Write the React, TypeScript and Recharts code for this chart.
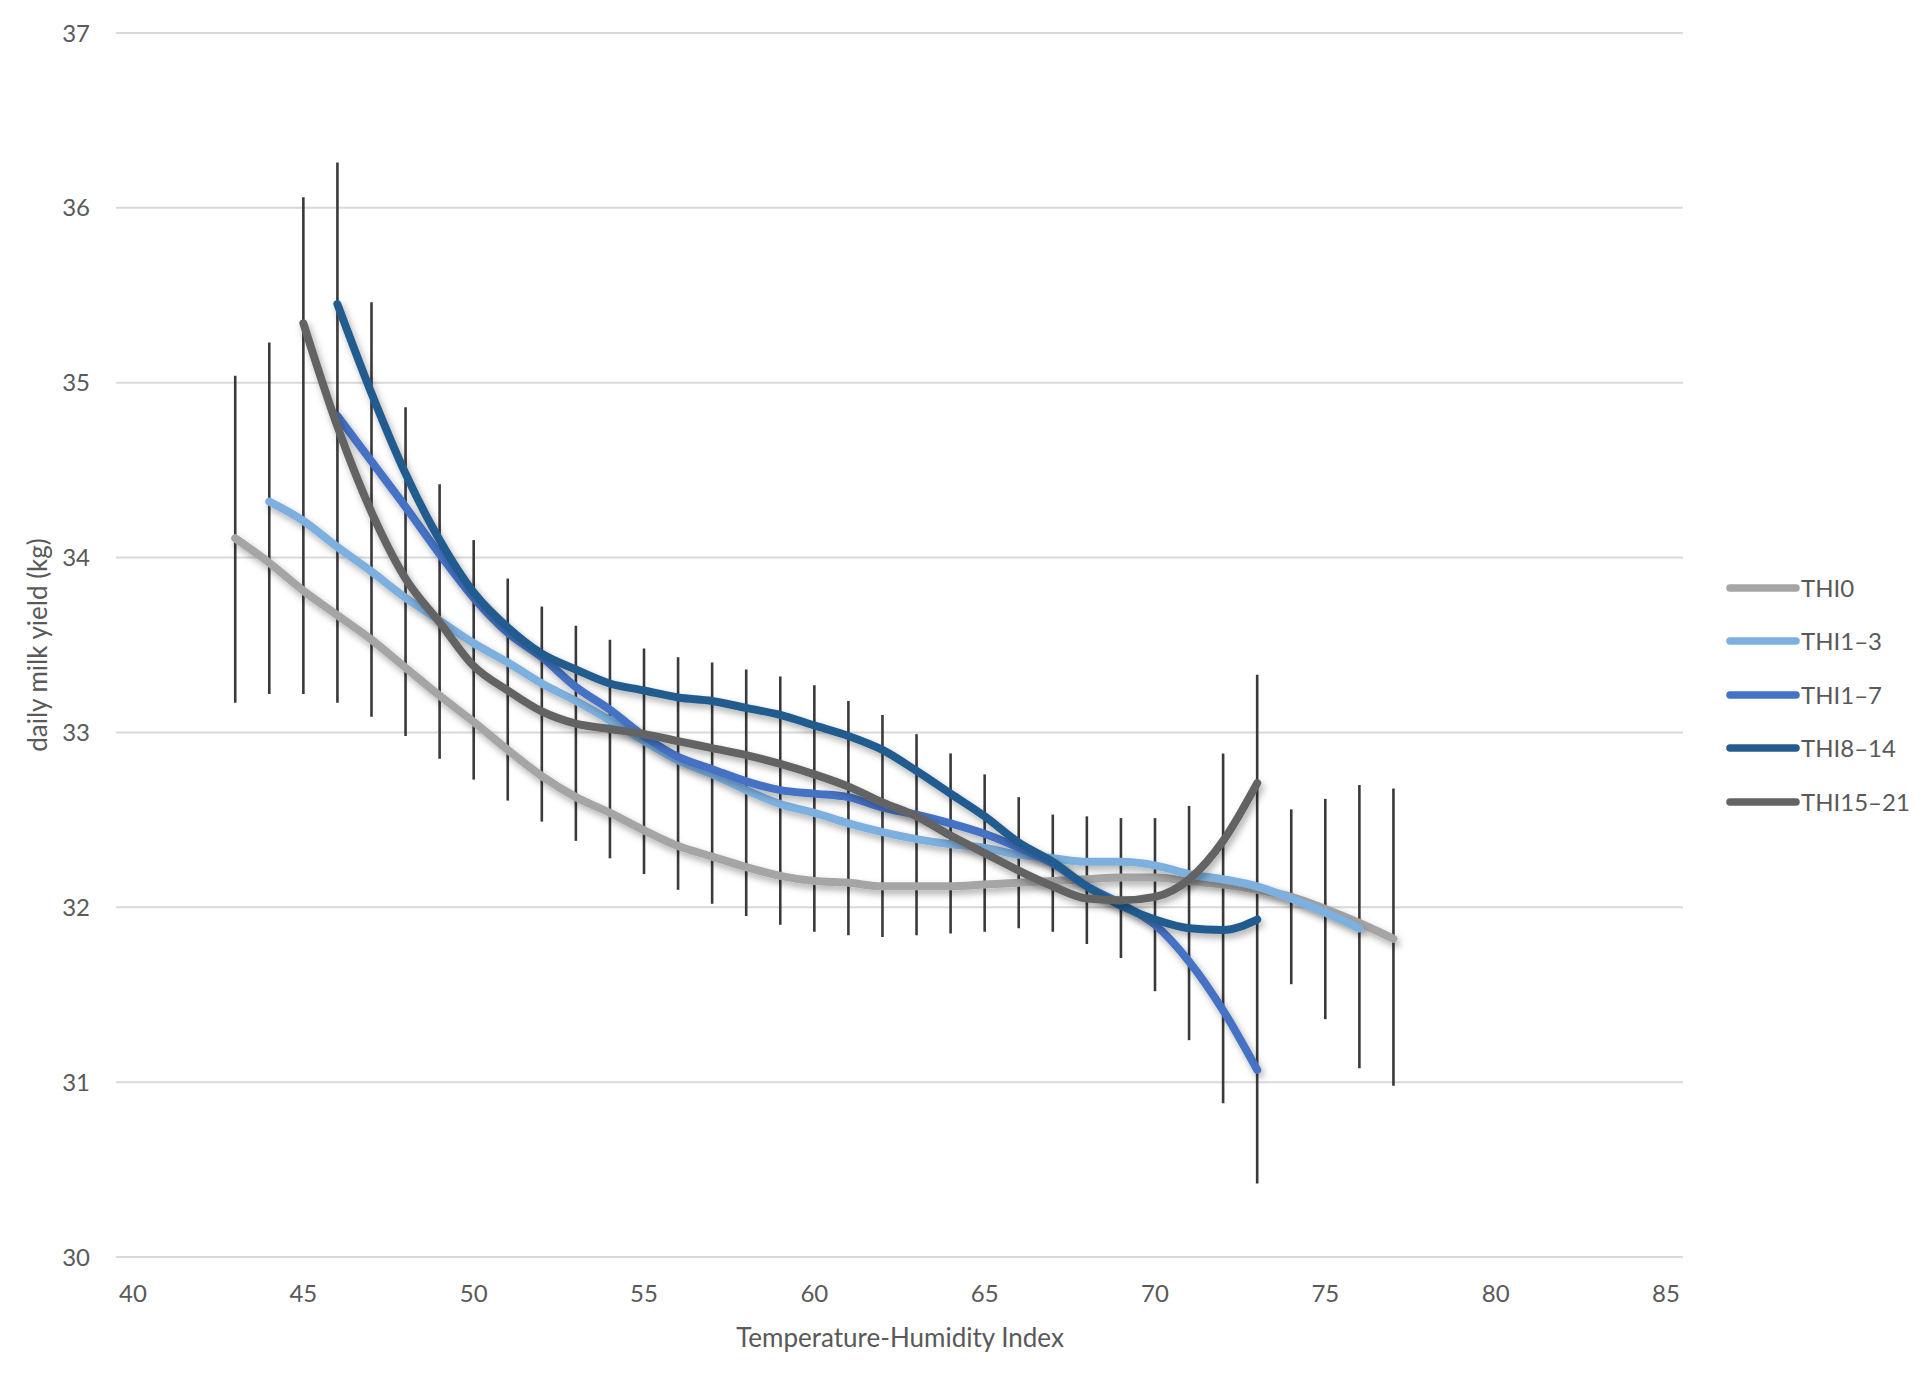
import React from 'react';
import { ComposedChart, Line, XAxis, YAxis, CartesianGrid, ErrorBar, Legend } from 'recharts';

// THI values (x axis)
const thi0X = [43,44,45,46,47,48,49,50,51,52,53,54,55,56,57,58,59,60,61,62,63,64,65,66,67,68,69,70,71,72,73,74,75,76,77];
const thi0Y = [34.11,33.97,33.81,33.67,33.53,33.37,33.21,33.06,32.90,32.75,32.63,32.54,32.44,32.35,32.29,32.23,32.18,32.15,32.14,32.12,32.12,32.12,32.13,32.14,32.15,32.16,32.17,32.17,32.15,32.13,32.10,32.06,31.99,31.91,31.82];

const thi13X = [44,45,46,47,48,49,50,51,52,53,54,55,56,57,58,59,60,61,62,63,64,65,66,67,68,69,70,71,72,73,74,75,76];
const thi13Y = [34.32,34.21,34.06,33.92,33.77,33.64,33.51,33.40,33.28,33.18,33.07,32.95,32.84,32.76,32.67,32.59,32.54,32.48,32.43,32.39,32.36,32.34,32.30,32.28,32.26,32.26,32.24,32.19,32.16,32.12,32.05,31.97,31.88];

const thi17X = [46,47,48,49,50,51,52,53,54,55,56,57,58,59,60,61,62,63,64,65,66,67,68,69,70,71,72,73];
const thi17Y = [34.81,34.55,34.29,34.02,33.77,33.57,33.43,33.26,33.13,32.98,32.86,32.79,32.72,32.67,32.65,32.63,32.57,32.53,32.48,32.42,32.34,32.25,32.12,32.02,31.90,31.69,31.41,31.07];

const thi814X = [46,47,48,49,50,51,52,53,54,55,56,57,58,59,60,61,62,63,64,65,66,67,68,69,70,71,72,73];
const thi814Y = [35.45,34.94,34.48,34.10,33.80,33.60,33.45,33.36,33.28,33.24,33.20,33.18,33.14,33.10,33.04,32.98,32.90,32.78,32.65,32.52,32.37,32.26,32.12,32.01,31.93,31.88,31.87,31.93];

const thi1521X = [45,46,47,48,49,50,51,52,53,54,55,56,57,58,59,60,61,62,63,64,65,66,67,68,69,70,71,72,73];
const thi1521Y = [35.34,34.75,34.26,33.88,33.63,33.38,33.24,33.12,33.05,33.02,32.99,32.95,32.91,32.87,32.82,32.76,32.69,32.60,32.52,32.41,32.31,32.21,32.12,32.05,32.04,32.06,32.16,32.38,32.71];

// error bar extents per THI value
const errX = [43,44,45,46,47,48,49,50,51,52,53,54,55,56,57,58,59,60,61,62,63,64,65,66,67,68,69,70,71,72,73,74,75,76,77];
const errLow = [33.17,33.22,33.22,33.17,33.09,32.98,32.85,32.73,32.61,32.49,32.38,32.28,32.19,32.10,32.02,31.95,31.90,31.86,31.84,31.83,31.84,31.85,31.86,31.88,31.86,31.79,31.71,31.52,31.24,30.88,30.42,31.56,31.36,31.08,30.98];
const errHigh = [35.04,35.23,36.06,36.26,35.46,34.86,34.42,34.10,33.88,33.72,33.61,33.53,33.48,33.43,33.40,33.36,33.32,33.27,33.18,33.10,32.99,32.88,32.76,32.63,32.53,32.52,32.51,32.51,32.58,32.88,33.33,32.56,32.62,32.70,32.68];

const xTicks = [40,45,50,55,60,65,70,75,80,85];
const yTicks = [30,31,32,33,34,35,36,37];

const seriesNames = ['THI0','THI1\u20133','THI1\u20137','THI8\u201314','THI15\u201321'];
const seriesColors = ['#A5A5A5','#7DB0DE','#4472C4','#245C8F','#646464'];
const seriesXs = [thi0X, thi13X, thi17X, thi814X, thi1521X];
const seriesYs = [thi0Y, thi13Y, thi17Y, thi814Y, thi1521Y];

const seriesData = seriesXs.map((xs, s) => xs.map((x, i) => ({ x, y: seriesYs[s][i] })));
const errData = errX.map((x, i) => {
  const mid = (errLow[i] + errHigh[i]) / 2;
  return { x, mid, err: [mid - errLow[i], errHigh[i] - mid] };
});

const FONT = 'Lato, "Open Sans", sans-serif';
const TEXT = '#595959';

const LegendContent = () => (
  <div style={{ fontFamily: FONT, fontSize: 24, color: TEXT }}>
    {seriesNames.map((n, i) => (
      <div key={n} style={{ display: 'flex', alignItems: 'center', height: 53.5 }}>
        <svg width={74} height={12} style={{ display: 'block' }}>
          <line x1={4} y1={6} x2={70} y2={6} stroke={seriesColors[i]} strokeWidth={7.5} strokeLinecap="round" />
        </svg>
        <span style={{ marginLeft: 1, lineHeight: 1 }}>{n}</span>
      </div>
    ))}
  </div>
);

export default function App() {
  return (
    <div style={{ position: 'absolute', left: 0, top: 0, width: 1930, height: 1376, background: '#fff' }}>
      <svg width={0} height={0} style={{ position: 'absolute' }}>
        <defs>
          <filter id="lineShadow" filterUnits="userSpaceOnUse" x={0} y={0} width={1930} height={1376}>
            <feDropShadow dx={2.5} dy={4} stdDeviation={3.5} floodColor="#000" floodOpacity={0.32} />
          </filter>
        </defs>
      </svg>
      <ComposedChart
        width={1930}
        height={1376}
        margin={{ top: 33, right: 247, bottom: 0, left: 0 }}
        style={{ fontFamily: FONT }}
      >
        <CartesianGrid vertical={false} stroke="#D9D9D9" strokeWidth={2} />
        <XAxis
          dataKey="x"
          type="number"
          domain={[39.5, 85.5]}
          ticks={xTicks}
          allowDataOverflow
          height={119}
          tickLine={false}
          axisLine={false}
          tickMargin={22}
          tick={{ fill: TEXT, fontSize: 24, fontFamily: FONT }}
          label={{
            content: () => (
              <text x={900} y={1347} textAnchor="middle" fill={TEXT} fontSize={26} fontFamily={FONT}>
                Temperature-Humidity Index
              </text>
            ),
          }}
        />
        <YAxis
          type="number"
          domain={[30, 37]}
          ticks={yTicks}
          width={116}
          tickLine={false}
          axisLine={false}
          tickMargin={20}
          tick={{ fill: TEXT, fontSize: 24, fontFamily: FONT }}
          label={{
            content: () => (
              <text
                x={37}
                y={645}
                transform="rotate(-90 37 645)"
                textAnchor="middle"
                dominantBaseline="central"
                fill={TEXT}
                fontSize={26}
                fontFamily={FONT}
              >
                daily milk yield (kg)
              </text>
            ),
          }}
        />
        <Line
          data={errData}
          dataKey="mid"
          stroke="none"
          dot={false}
          activeDot={false}
          legendType="none"
          isAnimationActive={false}
        >
          <ErrorBar dataKey="err" direction="y" width={0} stroke="#3A3A3A" strokeWidth={2.6} isAnimationActive={false} />
        </Line>
        {seriesData.map((d, s) => (
          <Line
            key={seriesNames[s]}
            data={d}
            dataKey="y"
            name={seriesNames[s]}
            type="monotone"
            stroke={seriesColors[s]}
            strokeWidth={8}
            strokeLinecap="round"
            filter="url(#lineShadow)"
            dot={false}
            activeDot={false}
            isAnimationActive={false}
          />
        ))}
        <Legend
          layout="horizontal"
          verticalAlign="middle"
          align="center"
          content={LegendContent}
          wrapperStyle={{ position: 'absolute', left: 1726, top: 561, width: 204, height: 270 }}
        />
      </ComposedChart>
    </div>
  );
}
